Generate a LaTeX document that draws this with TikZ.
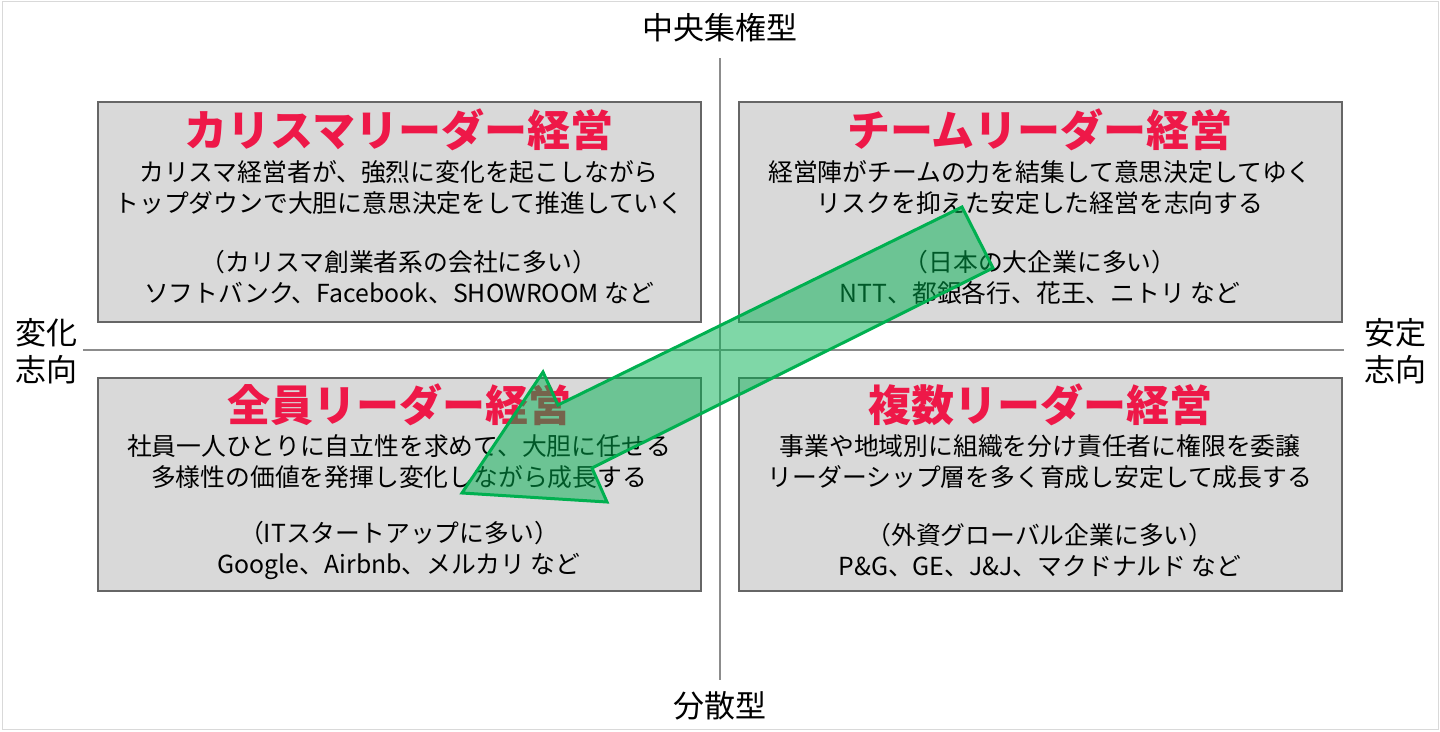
\documentclass[tikz,border=0pt]{standalone}
\usepackage{fontspec}
\setmainfont{Noto Sans CJK JP}
\usetikzlibrary{positioning}

\definecolor{titlered}{RGB}{238,24,72}
\definecolor{boxgray}{RGB}{217,217,217}
\definecolor{arrowgreen}{RGB}{0,176,80}

\begin{document}
\begin{tikzpicture}[x=1pt, y=-1pt,
    quad/.style={draw=black!60, line width=1.5pt, fill=boxgray, minimum width=603pt, inner sep=0pt, anchor=north west},
    ttl/.style={text=titlered, font=\fontsize{43}{48}\selectfont\bfseries, inner sep=0pt},
    body/.style={align=center, font=\fontsize{24.8}{31}\selectfont, inner sep=0pt},
    axlbl/.style={align=center, font=\fontsize{31}{37}\selectfont, inner sep=0pt},
    axis/.style={draw=black!45, line width=1.2pt}]
\useasboundingbox (0,0) rectangle (1440,731);
\draw[black!15, line width=1pt] (2,1.5) rectangle (1438,729.5);

% quadrants
\node[quad, minimum height=220pt] (tl) at (97,101) {};
\node[quad, minimum height=220pt] (tr) at (738,101) {};
\node[quad, minimum height=213pt] (bl) at (97,377) {};
\node[quad, minimum height=213pt] (br) at (738,377) {};

% axes
\coordinate (axN) at (720,58);
\coordinate (axS) at (720,680);
\coordinate (axW) at (83,350);
\coordinate (axE) at (1344,350);
\draw[axis] (axN) -- (axS);
\draw[axis] (axW) -- (axE);

\node[axlbl] (top)   at (720,28)  {中央集権型};
\node[axlbl] (bot)   at (720,706) {分散型};
\node[axlbl] (left)  at (47,351)  {変化\\志向};
\node[axlbl] (right) at (1395,351) {安定\\志向};

% top left
\node[ttl]  (tlT) at (399,130)   {カリスマリーダー経営};
\node[body] (tlA) at (399,187.5) {カリスマ経営者が、強烈に変化を起こしながら\\トップダウンで大胆に意思決定をして推進していく};
\node[body] (tlB) at (399,277)   {（カリスマ創業者系の会社に多い）\\ソフトバンク、Facebook、SHOWROOM など};

% top right
\node[ttl]  (trT) at (1040,130)   {チームリーダー経営};
\node[body] (trA) at (1040,187.5) {経営陣がチームの力を結集して意思決定してゆく\\リスクを抑えた安定した経営を志向する};
\node[body] (trB) at (1040,277)   {（日本の大企業に多い）\\NTT、都銀各行、花王、ニトリ など};

% bottom left
\node[ttl]  (blT) at (399,405) {全員リーダー経営};
\node[body] (blA) at (399,462) {社員一人ひとりに自立性を求めて、大胆に任せる\\多様性の価値を発揮し変化しながら成長する};
\node[body] (blB) at (399,550) {（ITスタートアップに多い）\\Google、Airbnb、メルカリ など};

% bottom right
\node[ttl]  (brT) at (1040,405) {複数リーダー経営};
\node[body] (brA) at (1040,462) {事業や地域別に組織を分け責任者に権限を委譲\\リーダーシップ層を多く育成し安定して成長する};
\node[body] (brB) at (1040,550) {（外資グローバル企業に多い）\\P\&G、GE、J\&J、マクドナルド など};

% shift arrow
\draw[arrowgreen, line width=3pt, fill=arrowgreen, fill opacity=0.5, line join=miter]
  (962,207) -- (993,268) -- (592,468) -- (607,502) -- (462,493)
  -- (543,372) -- (558,405) -- cycle;
\end{tikzpicture}
\end{document}
